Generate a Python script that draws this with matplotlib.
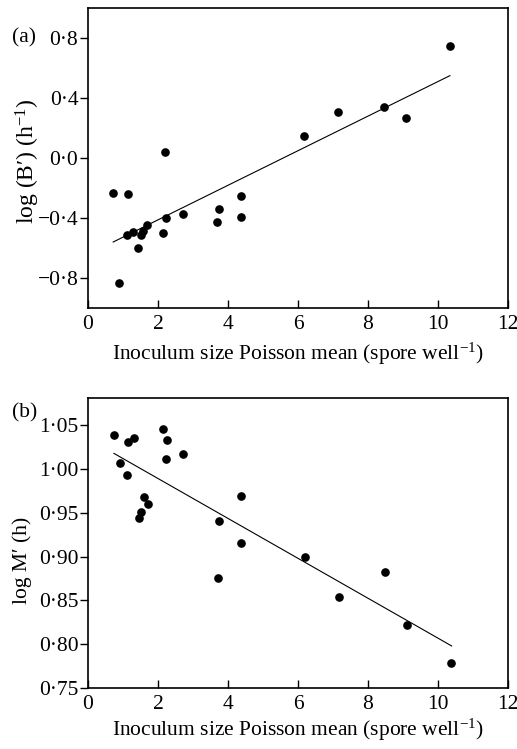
import matplotlib
matplotlib.use("Agg")
import matplotlib.pyplot as plt
import numpy as np

plt.rcParams['font.family'] = ['Liberation Serif', 'DejaVu Serif']
plt.rcParams['mathtext.fontset'] = 'custom'
plt.rcParams['mathtext.rm'] = 'Liberation Serif'
plt.rcParams['mathtext.it'] = 'Liberation Serif:italic'

# Panel (a) data
a_x = [0.72, 1.13, 0.89, 1.10, 1.29, 1.44, 1.50, 1.58, 1.69, 2.15, 2.23, 2.20,
       2.71, 3.68, 3.73, 4.36, 4.36, 6.17, 7.15, 8.46, 9.08, 10.34]
a_y = [-0.233, -0.238, -0.83, -0.51, -0.496, -0.60, -0.516, -0.489, -0.449, -0.50,
       -0.40, 0.04, -0.373, -0.429, -0.34, -0.256, -0.393, 0.144, 0.304, 0.34,
       0.267, 0.744]
a_fit_x = [0.72, 10.34]
a_fit_y = [-0.56, 0.549]

# Panel (b) data
b_x = [0.73, 0.90, 1.10, 1.15, 1.30, 1.61, 1.71, 1.51, 1.46, 2.15, 2.25, 2.22,
       2.72, 3.75, 3.70, 4.38, 4.38, 6.20, 7.18, 8.49, 9.11, 10.38]
b_y = [1.0383, 1.0065, 0.9936, 1.031, 1.035, 0.968, 0.9595, 0.951, 0.944, 1.0458,
       1.0326, 1.011, 1.017, 0.941, 0.8754, 0.9697, 0.9156, 0.900, 0.854, 0.882,
       0.822, 0.778]
b_fit_x = [0.74, 10.39]
b_fit_y = [1.0178, 0.798]

x_ticks = [0, 2, 4, 6, 8, 10, 12]
x_ticklabels = ['0', '2', '4', '6', '8', '10', '12']
a_yticks = [-0.8, -0.4, 0.0, 0.4, 0.8]
a_yticklabels = ['\u22120\u00b78', '\u22120\u00b74', '0\u00b70', '0\u00b74', '0\u00b78']
b_yticks = [0.75, 0.80, 0.85, 0.90, 0.95, 1.00, 1.05]
b_yticklabels = ['0\u00b775', '0\u00b780', '0\u00b785', '0\u00b790', '0\u00b795', '1\u00b700', '1\u00b705']

xlabel = 'Inoculum size Poisson mean (spore well$^{-1}$)'

W, H = 517, 749
fig = plt.figure(figsize=(W / 100, H / 100), dpi=100)

def frac(l, t, r, b):
    return [l / W, 1 - b / H, (r - l) / W, (b - t) / H]

ax1 = fig.add_axes(frac(88, 8, 508, 308))
ax2 = fig.add_axes(frac(88, 398, 508, 688))

FS = 15.5
for ax in (ax1, ax2):
    for s in ax.spines.values():
        s.set_linewidth(1.2)
    ax.set_xlim(0, 12)
    ax.set_xticks(x_ticks)
    ax.set_xticklabels(x_ticklabels)
    ax.tick_params(axis='x', direction='in', length=5.5, width=1.0, pad=5, labelsize=FS)
    ax.tick_params(axis='y', direction='out', length=5.5, width=1.0, pad=1.5, labelsize=FS)
    ax.set_xlabel(xlabel, fontsize=FS, va='center')

ax1.plot(a_x, a_y, 'o', color='black', markersize=5.2)
ax1.plot(a_fit_x, a_fit_y, '-', color='black', linewidth=0.8)
ax1.set_ylim(-1.0, 1.0)
ax1.set_yticks(a_yticks)
ax1.set_yticklabels(a_yticklabels)
ax1.set_ylabel('log (B\u2032) (h$^{-1}$)', fontsize=17, va='center')
ax1.yaxis.set_label_coords(-0.143, 0.49)
ax1.xaxis.set_label_coords(0.5, -0.153)
fig.text(12 / W, 1 - 38 / H, '(a)', fontsize=FS, ha='left', va='center')

ax2.plot(b_x, b_y, 'o', color='black', markersize=5.2)
ax2.plot(b_fit_x, b_fit_y, '-', color='black', linewidth=0.8)
ax2.set_ylim(0.75, 1.081)
ax2.set_yticks(b_yticks)
ax2.set_yticklabels(b_yticklabels)
ax2.set_ylabel('log M\u2032 (h)', fontsize=FS, va='center')
ax2.yaxis.set_label_coords(-0.158, 0.441)
ax2.xaxis.set_label_coords(0.5, -0.145)
fig.text(12 / W, 1 - 413 / H, '(b)', fontsize=FS, ha='left', va='center')

fig.savefig('out.png', dpi=100)
